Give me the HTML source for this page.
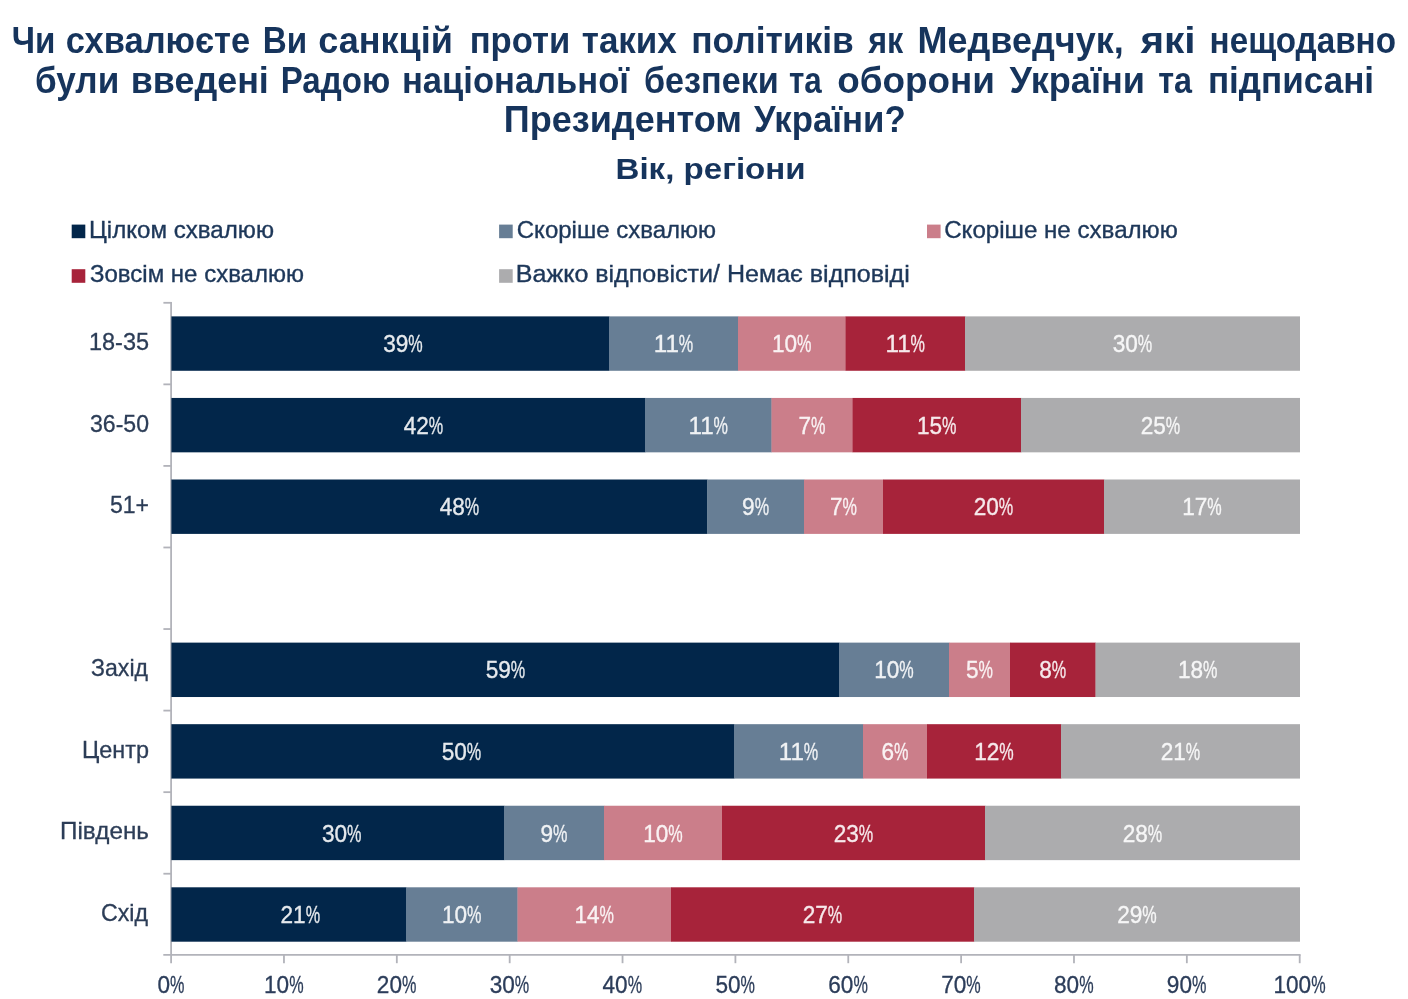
<!DOCTYPE html>
<html lang="uk"><head><meta charset="utf-8"><title>Чи схвалюєте Ви санкцій</title>
<style>
html,body{margin:0;padding:0;background:#fff;}
body{width:1408px;height:999px;overflow:hidden;font-family:"Liberation Sans", "DejaVu Sans", sans-serif;}
svg{display:block;}
</style></head><body>
<svg width="1408" height="999" viewBox="0 0 1408 999" font-family='"Liberation Sans", "DejaVu Sans", sans-serif'>
<rect x="71.70" y="224.60" width="13.60" height="13.60" fill="#02264a"/>
<rect x="499.10" y="224.60" width="13.60" height="13.60" fill="#677e95"/>
<rect x="927.00" y="224.60" width="13.60" height="13.60" fill="#cb7e8a"/>
<rect x="71.70" y="269.20" width="13.60" height="13.60" fill="#a7233a"/>
<rect x="499.10" y="269.20" width="13.60" height="13.60" fill="#acacae"/>
<g stroke="#b2b3ba" stroke-width="1.8" fill="none">
<line x1="171.1" y1="302.0" x2="171.1" y2="955"/>
<line x1="163.3" y1="954.9" x2="1300.6" y2="954.9"/>
<line x1="163.4" y1="302.80" x2="171.5" y2="302.80"/>
<line x1="163.4" y1="384.36" x2="171.5" y2="384.36"/>
<line x1="163.4" y1="465.92" x2="171.5" y2="465.92"/>
<line x1="163.4" y1="547.48" x2="171.5" y2="547.48"/>
<line x1="163.4" y1="629.04" x2="171.5" y2="629.04"/>
<line x1="163.4" y1="710.60" x2="171.5" y2="710.60"/>
<line x1="163.4" y1="792.16" x2="171.5" y2="792.16"/>
<line x1="163.4" y1="873.72" x2="171.5" y2="873.72"/>
<line x1="171.10" y1="954.9" x2="171.10" y2="963.2"/>
<line x1="283.96" y1="954.9" x2="283.96" y2="963.2"/>
<line x1="396.82" y1="954.9" x2="396.82" y2="963.2"/>
<line x1="509.68" y1="954.9" x2="509.68" y2="963.2"/>
<line x1="622.54" y1="954.9" x2="622.54" y2="963.2"/>
<line x1="735.40" y1="954.9" x2="735.40" y2="963.2"/>
<line x1="848.26" y1="954.9" x2="848.26" y2="963.2"/>
<line x1="961.12" y1="954.9" x2="961.12" y2="963.2"/>
<line x1="1073.98" y1="954.9" x2="1073.98" y2="963.2"/>
<line x1="1186.84" y1="954.9" x2="1186.84" y2="963.2"/>
<line x1="1299.70" y1="954.9" x2="1299.70" y2="963.2"/>
</g>
<rect x="171.40" y="316.38" width="437.90" height="54.40" fill="#02264a"/>
<rect x="609.00" y="316.38" width="129.30" height="54.40" fill="#677e95"/>
<rect x="738.00" y="316.38" width="107.80" height="54.40" fill="#cb7e8a"/>
<rect x="845.50" y="316.38" width="119.80" height="54.40" fill="#a7233a"/>
<rect x="965.00" y="316.38" width="335.00" height="54.40" fill="#acacae"/>
<rect x="171.40" y="397.94" width="473.90" height="54.40" fill="#02264a"/>
<rect x="645.00" y="397.94" width="126.80" height="54.40" fill="#677e95"/>
<rect x="771.50" y="397.94" width="81.30" height="54.40" fill="#cb7e8a"/>
<rect x="852.50" y="397.94" width="168.80" height="54.40" fill="#a7233a"/>
<rect x="1021.00" y="397.94" width="279.00" height="54.40" fill="#acacae"/>
<rect x="171.40" y="479.50" width="536.10" height="54.40" fill="#02264a"/>
<rect x="707.20" y="479.50" width="97.10" height="54.40" fill="#677e95"/>
<rect x="804.00" y="479.50" width="79.30" height="54.40" fill="#cb7e8a"/>
<rect x="883.00" y="479.50" width="221.30" height="54.40" fill="#a7233a"/>
<rect x="1104.00" y="479.50" width="196.00" height="54.40" fill="#acacae"/>
<rect x="171.40" y="642.62" width="667.90" height="54.40" fill="#02264a"/>
<rect x="839.00" y="642.62" width="110.30" height="54.40" fill="#677e95"/>
<rect x="949.00" y="642.62" width="61.30" height="54.40" fill="#cb7e8a"/>
<rect x="1010.00" y="642.62" width="85.80" height="54.40" fill="#a7233a"/>
<rect x="1095.50" y="642.62" width="204.50" height="54.40" fill="#acacae"/>
<rect x="171.40" y="724.18" width="562.90" height="54.40" fill="#02264a"/>
<rect x="734.00" y="724.18" width="129.30" height="54.40" fill="#677e95"/>
<rect x="863.00" y="724.18" width="64.30" height="54.40" fill="#cb7e8a"/>
<rect x="927.00" y="724.18" width="134.30" height="54.40" fill="#a7233a"/>
<rect x="1061.00" y="724.18" width="239.00" height="54.40" fill="#acacae"/>
<rect x="171.40" y="805.74" width="332.90" height="54.40" fill="#02264a"/>
<rect x="504.00" y="805.74" width="100.30" height="54.40" fill="#677e95"/>
<rect x="604.00" y="805.74" width="118.30" height="54.40" fill="#cb7e8a"/>
<rect x="722.00" y="805.74" width="263.30" height="54.40" fill="#a7233a"/>
<rect x="985.00" y="805.74" width="315.00" height="54.40" fill="#acacae"/>
<rect x="171.40" y="887.30" width="234.90" height="54.40" fill="#02264a"/>
<rect x="406.00" y="887.30" width="111.80" height="54.40" fill="#677e95"/>
<rect x="517.50" y="887.30" width="153.80" height="54.40" fill="#cb7e8a"/>
<rect x="671.00" y="887.30" width="303.30" height="54.40" fill="#a7233a"/>
<rect x="974.00" y="887.30" width="326.00" height="54.40" fill="#acacae"/>
<text y="52.50" font-size="36" font-weight="bold" fill="#16345c"><tspan x="11.70" textLength="43.69" lengthAdjust="spacingAndGlyphs">Чи</tspan> <tspan x="65.79" textLength="184.43" lengthAdjust="spacingAndGlyphs">схвалюєте</tspan> <tspan x="262.78" textLength="44.44" lengthAdjust="spacingAndGlyphs">Ви</tspan> <tspan x="318.18" textLength="134.67" lengthAdjust="spacingAndGlyphs">санкцій</tspan> <tspan x="469.70" textLength="100.61" lengthAdjust="spacingAndGlyphs">проти</tspan> <tspan x="581.79" textLength="95.01" lengthAdjust="spacingAndGlyphs">таких</tspan> <tspan x="691.16" textLength="162.66" lengthAdjust="spacingAndGlyphs">політиків</tspan> <tspan x="868.19" textLength="35.03" lengthAdjust="spacingAndGlyphs">як</tspan> <tspan x="917.55" textLength="206.08" lengthAdjust="spacingAndGlyphs">Медведчук,</tspan> <tspan x="1140.42" textLength="55.09" lengthAdjust="spacingAndGlyphs">які</tspan> <tspan x="1209.57" textLength="186.44" lengthAdjust="spacingAndGlyphs">нещодавно</tspan></text>
<text y="92.50" font-size="36" font-weight="bold" fill="#16345c"><tspan x="34.96" textLength="84.33" lengthAdjust="spacingAndGlyphs">були</tspan> <tspan x="130.73" textLength="138.12" lengthAdjust="spacingAndGlyphs">введені</tspan> <tspan x="280.73" textLength="109.51" lengthAdjust="spacingAndGlyphs">Радою</tspan> <tspan x="401.99" textLength="227.00" lengthAdjust="spacingAndGlyphs">національної</tspan> <tspan x="643.98" textLength="134.87" lengthAdjust="spacingAndGlyphs">безпеки</tspan> <tspan x="789.00" textLength="32.81" lengthAdjust="spacingAndGlyphs">та</tspan> <tspan x="837.18" textLength="157.88" lengthAdjust="spacingAndGlyphs">оборони</tspan> <tspan x="1009.61" textLength="135.44" lengthAdjust="spacingAndGlyphs">України</tspan> <tspan x="1158.18" textLength="33.84" lengthAdjust="spacingAndGlyphs">та</tspan> <tspan x="1207.94" textLength="166.13" lengthAdjust="spacingAndGlyphs">підписані</tspan></text>
<text y="132.40" font-size="36" font-weight="bold" fill="#16345c"><tspan x="503.76" textLength="238.27" lengthAdjust="spacingAndGlyphs">Президентом</tspan> <tspan x="754.00" textLength="151.62" lengthAdjust="spacingAndGlyphs">України?</tspan></text>
<text x="615.56" y="178.80" font-size="30" font-weight="bold" fill="#16345c" textLength="190.07" lengthAdjust="spacingAndGlyphs">Вік, регіони</text>
<text x="88.99" y="237.90" font-size="23" fill="#1d3759" stroke="#1d3759" stroke-width="0.35" textLength="185.01" lengthAdjust="spacingAndGlyphs">Цілком схвалюю</text>
<text x="516.79" y="237.90" font-size="23" fill="#1d3759" stroke="#1d3759" stroke-width="0.35" textLength="199.21" lengthAdjust="spacingAndGlyphs">Скоріше схвалюю</text>
<text x="944.20" y="237.90" font-size="23" fill="#1d3759" stroke="#1d3759" stroke-width="0.35" textLength="233.60" lengthAdjust="spacingAndGlyphs">Скоріше не схвалюю</text>
<text x="90.00" y="282.40" font-size="23" fill="#1d3759" stroke="#1d3759" stroke-width="0.35" textLength="214.00" lengthAdjust="spacingAndGlyphs">Зовсім не схвалюю</text>
<text x="515.79" y="282.40" font-size="23" fill="#1d3759" stroke="#1d3759" stroke-width="0.35" textLength="394.02" lengthAdjust="spacingAndGlyphs">Важко відповісти/ Немає відповіді</text>
<text x="88.94" y="350.08" font-size="24" fill="#2c3d57" stroke="#2c3d57" stroke-width="0.3" textLength="60.09" lengthAdjust="spacingAndGlyphs">18-35</text>
<text x="383.22" y="352.18" font-size="24" fill="#ffffff" opacity="0.9" stroke="#fff" stroke-width="0.35"><tspan textLength="25.15" lengthAdjust="spacingAndGlyphs">39</tspan><tspan textLength="14.40" lengthAdjust="spacingAndGlyphs">%</tspan></text>
<text x="653.72" y="352.18" font-size="24" fill="#ffffff" opacity="0.9" stroke="#fff" stroke-width="0.35"><tspan textLength="25.15" lengthAdjust="spacingAndGlyphs">11</tspan><tspan textLength="14.40" lengthAdjust="spacingAndGlyphs">%</tspan></text>
<text x="771.97" y="352.18" font-size="24" fill="#ffffff" opacity="0.9" stroke="#fff" stroke-width="0.35"><tspan textLength="25.15" lengthAdjust="spacingAndGlyphs">10</tspan><tspan textLength="14.40" lengthAdjust="spacingAndGlyphs">%</tspan></text>
<text x="885.47" y="352.18" font-size="24" fill="#ffffff" opacity="0.9" stroke="#fff" stroke-width="0.35"><tspan textLength="25.15" lengthAdjust="spacingAndGlyphs">11</tspan><tspan textLength="14.40" lengthAdjust="spacingAndGlyphs">%</tspan></text>
<text x="1112.72" y="352.18" font-size="24" fill="#ffffff" opacity="0.9" stroke="#fff" stroke-width="0.35"><tspan textLength="25.15" lengthAdjust="spacingAndGlyphs">30</tspan><tspan textLength="14.40" lengthAdjust="spacingAndGlyphs">%</tspan></text>
<text x="90.00" y="431.64" font-size="24" fill="#2c3d57" stroke="#2c3d57" stroke-width="0.3" textLength="59.01" lengthAdjust="spacingAndGlyphs">36-50</text>
<text x="403.72" y="433.74" font-size="24" fill="#ffffff" opacity="0.9" stroke="#fff" stroke-width="0.35"><tspan textLength="25.15" lengthAdjust="spacingAndGlyphs">42</tspan><tspan textLength="14.40" lengthAdjust="spacingAndGlyphs">%</tspan></text>
<text x="688.47" y="433.74" font-size="24" fill="#ffffff" opacity="0.9" stroke="#fff" stroke-width="0.35"><tspan textLength="25.15" lengthAdjust="spacingAndGlyphs">11</tspan><tspan textLength="14.40" lengthAdjust="spacingAndGlyphs">%</tspan></text>
<text x="798.51" y="433.74" font-size="24" fill="#ffffff" opacity="0.9" stroke="#fff" stroke-width="0.35"><tspan textLength="12.58" lengthAdjust="spacingAndGlyphs">7</tspan><tspan textLength="14.40" lengthAdjust="spacingAndGlyphs">%</tspan></text>
<text x="916.97" y="433.74" font-size="24" fill="#ffffff" opacity="0.9" stroke="#fff" stroke-width="0.35"><tspan textLength="25.15" lengthAdjust="spacingAndGlyphs">15</tspan><tspan textLength="14.40" lengthAdjust="spacingAndGlyphs">%</tspan></text>
<text x="1140.72" y="433.74" font-size="24" fill="#ffffff" opacity="0.9" stroke="#fff" stroke-width="0.35"><tspan textLength="25.15" lengthAdjust="spacingAndGlyphs">25</tspan><tspan textLength="14.40" lengthAdjust="spacingAndGlyphs">%</tspan></text>
<text x="109.96" y="513.20" font-size="24" fill="#2c3d57" stroke="#2c3d57" stroke-width="0.3" textLength="39.07" lengthAdjust="spacingAndGlyphs">51+</text>
<text x="439.72" y="515.30" font-size="24" fill="#ffffff" opacity="0.9" stroke="#fff" stroke-width="0.35"><tspan textLength="25.15" lengthAdjust="spacingAndGlyphs">48</tspan><tspan textLength="14.40" lengthAdjust="spacingAndGlyphs">%</tspan></text>
<text x="742.11" y="515.30" font-size="24" fill="#ffffff" opacity="0.9" stroke="#fff" stroke-width="0.35"><tspan textLength="12.58" lengthAdjust="spacingAndGlyphs">9</tspan><tspan textLength="14.40" lengthAdjust="spacingAndGlyphs">%</tspan></text>
<text x="830.01" y="515.30" font-size="24" fill="#ffffff" opacity="0.9" stroke="#fff" stroke-width="0.35"><tspan textLength="12.58" lengthAdjust="spacingAndGlyphs">7</tspan><tspan textLength="14.40" lengthAdjust="spacingAndGlyphs">%</tspan></text>
<text x="973.72" y="515.30" font-size="24" fill="#ffffff" opacity="0.9" stroke="#fff" stroke-width="0.35"><tspan textLength="25.15" lengthAdjust="spacingAndGlyphs">20</tspan><tspan textLength="14.40" lengthAdjust="spacingAndGlyphs">%</tspan></text>
<text x="1182.22" y="515.30" font-size="24" fill="#ffffff" opacity="0.9" stroke="#fff" stroke-width="0.35"><tspan textLength="25.15" lengthAdjust="spacingAndGlyphs">17</tspan><tspan textLength="14.40" lengthAdjust="spacingAndGlyphs">%</tspan></text>
<text x="91.00" y="676.32" font-size="24" fill="#2c3d57" stroke="#2c3d57" stroke-width="0.3" textLength="57.01" lengthAdjust="spacingAndGlyphs">Захід</text>
<text x="485.72" y="678.42" font-size="24" fill="#ffffff" opacity="0.9" stroke="#fff" stroke-width="0.35"><tspan textLength="25.15" lengthAdjust="spacingAndGlyphs">59</tspan><tspan textLength="14.40" lengthAdjust="spacingAndGlyphs">%</tspan></text>
<text x="874.22" y="678.42" font-size="24" fill="#ffffff" opacity="0.9" stroke="#fff" stroke-width="0.35"><tspan textLength="25.15" lengthAdjust="spacingAndGlyphs">10</tspan><tspan textLength="14.40" lengthAdjust="spacingAndGlyphs">%</tspan></text>
<text x="966.01" y="678.42" font-size="24" fill="#ffffff" opacity="0.9" stroke="#fff" stroke-width="0.35"><tspan textLength="12.58" lengthAdjust="spacingAndGlyphs">5</tspan><tspan textLength="14.40" lengthAdjust="spacingAndGlyphs">%</tspan></text>
<text x="1039.26" y="678.42" font-size="24" fill="#ffffff" opacity="0.9" stroke="#fff" stroke-width="0.35"><tspan textLength="12.58" lengthAdjust="spacingAndGlyphs">8</tspan><tspan textLength="14.40" lengthAdjust="spacingAndGlyphs">%</tspan></text>
<text x="1177.97" y="678.42" font-size="24" fill="#ffffff" opacity="0.9" stroke="#fff" stroke-width="0.35"><tspan textLength="25.15" lengthAdjust="spacingAndGlyphs">18</tspan><tspan textLength="14.40" lengthAdjust="spacingAndGlyphs">%</tspan></text>
<text x="81.98" y="757.88" font-size="24" fill="#2c3d57" stroke="#2c3d57" stroke-width="0.3" textLength="67.04" lengthAdjust="spacingAndGlyphs">Центр</text>
<text x="441.72" y="759.98" font-size="24" fill="#ffffff" opacity="0.9" stroke="#fff" stroke-width="0.35"><tspan textLength="25.15" lengthAdjust="spacingAndGlyphs">50</tspan><tspan textLength="14.40" lengthAdjust="spacingAndGlyphs">%</tspan></text>
<text x="778.72" y="759.98" font-size="24" fill="#ffffff" opacity="0.9" stroke="#fff" stroke-width="0.35"><tspan textLength="25.15" lengthAdjust="spacingAndGlyphs">11</tspan><tspan textLength="14.40" lengthAdjust="spacingAndGlyphs">%</tspan></text>
<text x="881.51" y="759.98" font-size="24" fill="#ffffff" opacity="0.9" stroke="#fff" stroke-width="0.35"><tspan textLength="12.58" lengthAdjust="spacingAndGlyphs">6</tspan><tspan textLength="14.40" lengthAdjust="spacingAndGlyphs">%</tspan></text>
<text x="974.22" y="759.98" font-size="24" fill="#ffffff" opacity="0.9" stroke="#fff" stroke-width="0.35"><tspan textLength="25.15" lengthAdjust="spacingAndGlyphs">12</tspan><tspan textLength="14.40" lengthAdjust="spacingAndGlyphs">%</tspan></text>
<text x="1160.72" y="759.98" font-size="24" fill="#ffffff" opacity="0.9" stroke="#fff" stroke-width="0.35"><tspan textLength="25.15" lengthAdjust="spacingAndGlyphs">21</tspan><tspan textLength="14.40" lengthAdjust="spacingAndGlyphs">%</tspan></text>
<text x="59.98" y="839.44" font-size="24" fill="#2c3d57" stroke="#2c3d57" stroke-width="0.3" textLength="89.03" lengthAdjust="spacingAndGlyphs">Південь</text>
<text x="321.97" y="841.54" font-size="24" fill="#ffffff" opacity="0.9" stroke="#fff" stroke-width="0.35"><tspan textLength="25.15" lengthAdjust="spacingAndGlyphs">30</tspan><tspan textLength="14.40" lengthAdjust="spacingAndGlyphs">%</tspan></text>
<text x="540.51" y="841.54" font-size="24" fill="#ffffff" opacity="0.9" stroke="#fff" stroke-width="0.35"><tspan textLength="12.58" lengthAdjust="spacingAndGlyphs">9</tspan><tspan textLength="14.40" lengthAdjust="spacingAndGlyphs">%</tspan></text>
<text x="643.22" y="841.54" font-size="24" fill="#ffffff" opacity="0.9" stroke="#fff" stroke-width="0.35"><tspan textLength="25.15" lengthAdjust="spacingAndGlyphs">10</tspan><tspan textLength="14.40" lengthAdjust="spacingAndGlyphs">%</tspan></text>
<text x="833.72" y="841.54" font-size="24" fill="#ffffff" opacity="0.9" stroke="#fff" stroke-width="0.35"><tspan textLength="25.15" lengthAdjust="spacingAndGlyphs">23</tspan><tspan textLength="14.40" lengthAdjust="spacingAndGlyphs">%</tspan></text>
<text x="1122.72" y="841.54" font-size="24" fill="#ffffff" opacity="0.9" stroke="#fff" stroke-width="0.35"><tspan textLength="25.15" lengthAdjust="spacingAndGlyphs">28</tspan><tspan textLength="14.40" lengthAdjust="spacingAndGlyphs">%</tspan></text>
<text x="100.99" y="921.00" font-size="24" fill="#2c3d57" stroke="#2c3d57" stroke-width="0.3" textLength="47.03" lengthAdjust="spacingAndGlyphs">Схід</text>
<text x="280.52" y="923.10" font-size="24" fill="#ffffff" opacity="0.9" stroke="#fff" stroke-width="0.35"><tspan textLength="25.15" lengthAdjust="spacingAndGlyphs">21</tspan><tspan textLength="14.40" lengthAdjust="spacingAndGlyphs">%</tspan></text>
<text x="441.97" y="923.10" font-size="24" fill="#ffffff" opacity="0.9" stroke="#fff" stroke-width="0.35"><tspan textLength="25.15" lengthAdjust="spacingAndGlyphs">10</tspan><tspan textLength="14.40" lengthAdjust="spacingAndGlyphs">%</tspan></text>
<text x="574.47" y="923.10" font-size="24" fill="#ffffff" opacity="0.9" stroke="#fff" stroke-width="0.35"><tspan textLength="25.15" lengthAdjust="spacingAndGlyphs">14</tspan><tspan textLength="14.40" lengthAdjust="spacingAndGlyphs">%</tspan></text>
<text x="802.72" y="923.10" font-size="24" fill="#ffffff" opacity="0.9" stroke="#fff" stroke-width="0.35"><tspan textLength="25.15" lengthAdjust="spacingAndGlyphs">27</tspan><tspan textLength="14.40" lengthAdjust="spacingAndGlyphs">%</tspan></text>
<text x="1117.22" y="923.10" font-size="24" fill="#ffffff" opacity="0.9" stroke="#fff" stroke-width="0.35"><tspan textLength="25.15" lengthAdjust="spacingAndGlyphs">29</tspan><tspan textLength="14.40" lengthAdjust="spacingAndGlyphs">%</tspan></text>
<text x="157.41" y="992.90" font-size="24" fill="#2c3d5a" stroke="#2c3d5a" stroke-width="0.3"><tspan textLength="12.58" lengthAdjust="spacingAndGlyphs">0</tspan><tspan textLength="14.40" lengthAdjust="spacingAndGlyphs">%</tspan></text>
<text x="263.98" y="992.90" font-size="24" fill="#2c3d5a" stroke="#2c3d5a" stroke-width="0.3"><tspan textLength="25.15" lengthAdjust="spacingAndGlyphs">10</tspan><tspan textLength="14.40" lengthAdjust="spacingAndGlyphs">%</tspan></text>
<text x="376.84" y="992.90" font-size="24" fill="#2c3d5a" stroke="#2c3d5a" stroke-width="0.3"><tspan textLength="25.15" lengthAdjust="spacingAndGlyphs">20</tspan><tspan textLength="14.40" lengthAdjust="spacingAndGlyphs">%</tspan></text>
<text x="489.70" y="992.90" font-size="24" fill="#2c3d5a" stroke="#2c3d5a" stroke-width="0.3"><tspan textLength="25.15" lengthAdjust="spacingAndGlyphs">30</tspan><tspan textLength="14.40" lengthAdjust="spacingAndGlyphs">%</tspan></text>
<text x="602.56" y="992.90" font-size="24" fill="#2c3d5a" stroke="#2c3d5a" stroke-width="0.3"><tspan textLength="25.15" lengthAdjust="spacingAndGlyphs">40</tspan><tspan textLength="14.40" lengthAdjust="spacingAndGlyphs">%</tspan></text>
<text x="715.42" y="992.90" font-size="24" fill="#2c3d5a" stroke="#2c3d5a" stroke-width="0.3"><tspan textLength="25.15" lengthAdjust="spacingAndGlyphs">50</tspan><tspan textLength="14.40" lengthAdjust="spacingAndGlyphs">%</tspan></text>
<text x="828.28" y="992.90" font-size="24" fill="#2c3d5a" stroke="#2c3d5a" stroke-width="0.3"><tspan textLength="25.15" lengthAdjust="spacingAndGlyphs">60</tspan><tspan textLength="14.40" lengthAdjust="spacingAndGlyphs">%</tspan></text>
<text x="941.14" y="992.90" font-size="24" fill="#2c3d5a" stroke="#2c3d5a" stroke-width="0.3"><tspan textLength="25.15" lengthAdjust="spacingAndGlyphs">70</tspan><tspan textLength="14.40" lengthAdjust="spacingAndGlyphs">%</tspan></text>
<text x="1054.00" y="992.90" font-size="24" fill="#2c3d5a" stroke="#2c3d5a" stroke-width="0.3"><tspan textLength="25.15" lengthAdjust="spacingAndGlyphs">80</tspan><tspan textLength="14.40" lengthAdjust="spacingAndGlyphs">%</tspan></text>
<text x="1166.86" y="992.90" font-size="24" fill="#2c3d5a" stroke="#2c3d5a" stroke-width="0.3"><tspan textLength="25.15" lengthAdjust="spacingAndGlyphs">90</tspan><tspan textLength="14.40" lengthAdjust="spacingAndGlyphs">%</tspan></text>
<text x="1273.44" y="992.90" font-size="24" fill="#2c3d5a" stroke="#2c3d5a" stroke-width="0.3"><tspan textLength="37.73" lengthAdjust="spacingAndGlyphs">100</tspan><tspan textLength="14.40" lengthAdjust="spacingAndGlyphs">%</tspan></text>
</svg>
</body></html>
